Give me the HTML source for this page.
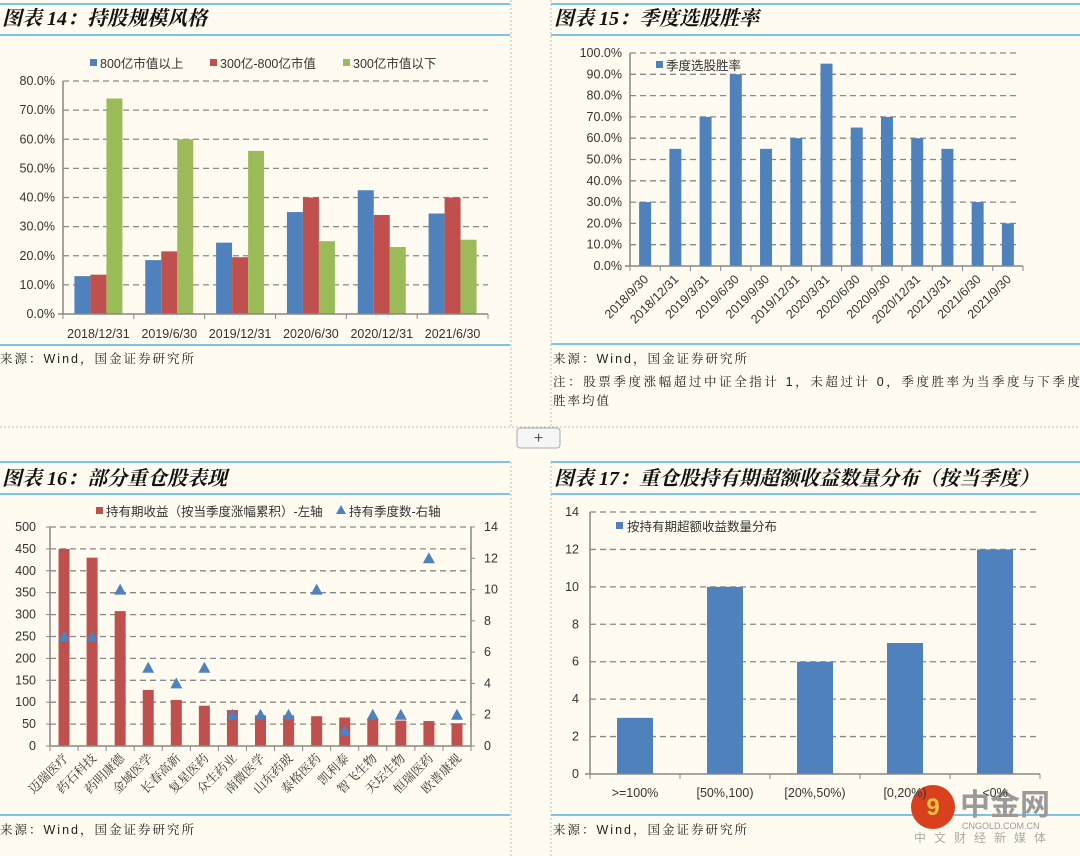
<!DOCTYPE html>
<html><head><meta charset="utf-8"><style>
html,body{margin:0;padding:0;background:#fffbf0;}
svg{display:block;font-family:"Liberation Sans","Noto Sans CJK SC",sans-serif;}
.t{font-family:"Liberation Serif","Noto Serif CJK SC",serif;font-weight:bold;font-style:italic;font-size:20px;fill:#111;}
.tk{font-size:12.5px;fill:#333;}
.src{font-size:12.5px;fill:#222;letter-spacing:2px;font-family:"Liberation Sans","Noto Serif CJK SC",serif;}
</style></head><body>
<svg id="s" width="1080" height="856" viewBox="0 0 1080 856">
<rect x="0" y="0" width="1080" height="856" fill="#fffbf0"/>
<g stroke="#4fb3e3" stroke-width="1.5">
<line x1="0" y1="4" x2="510" y2="4"/><line x1="0" y1="35" x2="510" y2="35"/><line x1="0" y1="345" x2="510" y2="345"/>
<line x1="551" y1="4" x2="1080" y2="4"/><line x1="551" y1="35" x2="1080" y2="35"/><line x1="551" y1="344" x2="1080" y2="344"/>
<line x1="0" y1="462" x2="510" y2="462"/><line x1="0" y1="494" x2="510" y2="494"/><line x1="0" y1="815" x2="510" y2="815"/>
<line x1="551" y1="462" x2="1080" y2="462"/><line x1="551" y1="494" x2="1080" y2="494"/><line x1="551" y1="815" x2="1080" y2="815"/>
</g>
<g stroke="#bbb" stroke-dasharray="2,2" stroke-width="1">
<line x1="511" y1="0" x2="511" y2="427"/><line x1="551" y1="0" x2="551" y2="427"/>
<line x1="511" y1="462" x2="511" y2="856"/><line x1="551" y1="462" x2="551" y2="856"/>
<line x1="0" y1="427" x2="1080" y2="427"/>
</g>
<g>
<rect x="517" y="428" width="43" height="20" rx="3" fill="#f6f6f6" stroke="#aaa"/>
<text x="538.5" y="443" text-anchor="middle" font-size="16" fill="#555">+</text></g>

<text class="t" x="2" y="25">图表 14：持股规模风格</text>
<text class="t" x="554" y="25">图表 15：季度选股胜率</text>
<text class="t" x="2" y="485">图表 16：部分重仓股表现</text>
<text class="t" x="554" y="485">图表 17：重仓股持有期超额收益数量分布（按当季度）</text>

<text class="src" x="0" y="363">来源：Wind，国金证券研究所</text>
<text class="src" x="553" y="363">来源：Wind，国金证券研究所</text>
<text class="src" x="553" y="386" style="letter-spacing:2.6px">注：股票季度涨幅超过中证全指计 1，未超过计 0，季度胜率为当季度与下季度</text>
<text class="src" x="553" y="405">胜率均值</text>
<text class="src" x="0" y="834">来源：Wind，国金证券研究所</text>
<text class="src" x="553" y="834">来源：Wind，国金证券研究所</text>

<g>
<circle cx="933" cy="807" r="22" fill="#d8401e"/>
<text x="933" y="815" text-anchor="middle" font-size="24" font-weight="bold" fill="#f7c040">9</text>
<text x="960" y="815" font-size="30" font-weight="bold" fill="#9a9a9a">中金网</text>
<text x="962" y="829" font-size="9" fill="#999">CNGOLD.COM.CN</text>
<text x="914" y="842" font-size="12" fill="#aaa" letter-spacing="8">中文财经新媒体</text>
</g>
<g id="c14"></g><g id="c15"></g><g id="c16"></g><g id="c17"></g>
</svg>
<script>
// Chart 14 data
const c14Cats=["2018/12/31","2019/6/30","2019/12/31","2020/6/30","2020/12/31","2021/6/30"];
const c14Large=[13,18.5,24.5,35,42.5,34.5];
const c14Mid=[13.5,21.5,19.5,40,34,40];
const c14Small=[74,60,56,25,23,25.5];
const c14Ticks=[0,10,20,30,40,50,60,70,80];
// Chart 15 data
const c15Cats=["2018/9/30","2018/12/31","2019/3/31","2019/6/30","2019/9/30","2019/12/31","2020/3/31","2020/6/30","2020/9/30","2020/12/31","2021/3/31","2021/6/30","2021/9/30"];
const c15Vals=[30,55,70,90,55,60,95,65,70,60,55,30,20];
const c15Ticks=[0,10,20,30,40,50,60,70,80,90,100];
// Chart 16 data
const c16Cats=["迈瑞医疗","药石科技","药明康德","金域医学","长春高新","复星医药","众生药业","南微医学","山东药玻","泰格医药","凯利泰","智飞生物","天坛生物","恒瑞医药","欧普康视"];
const c16Returns=[450,430,308,128,105,92,82,70,70,68,65,62,58,57,52];
const c16Quarters=[7,7,10,5,4,5,2,2,2,10,1,2,2,12,2];
const c16LeftTicks=[0,50,100,150,200,250,300,350,400,450,500];
const c16RightTicks=[0,2,4,6,8,10,12,14];
// Chart 17 data
const c17Cats=[">=100%","[50%,100)","[20%,50%)","[0,20%)","<0%"];
const c17Vals=[3,10,6,7,12];
const c17Ticks=[0,2,4,6,8,10,12,14];

const NS="http://www.w3.org/2000/svg";
function mk(p,tag,a,txt){const e=document.createElementNS(NS,tag);for(const k in a)e.setAttribute(k,a[k]);if(txt!==undefined)e.textContent=txt;p.appendChild(e);return e;}
const BLUE="#4f81bd",RED="#c0504d",GREEN="#9bbb59";
function grid(g,x0,x1,ys){ys.forEach(y=>{const l=mk(g,'line',{x1:x0,x2:x1,y1:y,y2:y,stroke:'#888','stroke-dasharray':'6,4','stroke-width':1.3});

});}

// ---- Chart 14
(function(){
const g=document.getElementById('c14');
const X0=63,X1=488,Y0=314,Y1=81,MAX=80;
const y=v=>Y0-(v/MAX)*(Y0-Y1);
const gw=(X1-X0)/c14Cats.length, bw=16;
grid(g,X0,X1,c14Ticks.slice(1).map(y));
c14Ticks.forEach(t=>{const e=mk(g,'text',{x:X0-8,y:y(t)+4,'text-anchor':'end',class:'tk'},t.toFixed(1)+'%');

});
const series=[[c14Large,BLUE,'large'],[c14Mid,RED,'mid'],[c14Small,GREEN,'small']];
c14Cats.forEach((c,i)=>{const gx=X0+i*gw+(gw-3*bw)/2;
series.forEach((s,j)=>{const r=mk(g,'rect',{x:gx+j*bw,y:y(s[0][i]),width:bw,height:Y0-y(s[0][i]),fill:s[1]});

});
const t=mk(g,'text',{x:X0+i*gw+gw/2,y:338,'text-anchor':'middle',class:'tk','font-size':'13'},c);


mk(g,'line',{x1:X0+i*gw,x2:X0+i*gw,y1:Y0,y2:Y0+5,stroke:'#888'});});
mk(g,'line',{x1:X0+c14Cats.length*gw,x2:X0+c14Cats.length*gw,y1:Y0,y2:Y0+5,stroke:'#888'});
mk(g,'line',{x1:X0,x2:X0,y1:Y1,y2:Y0,stroke:'#888','stroke-width':1.5});
mk(g,'line',{x1:X0-5,x2:X1,y1:Y0,y2:Y0,stroke:'#888','stroke-width':1.5});
[["800亿市值以上",BLUE,90],["300亿-800亿市值",RED,212],["300亿市值以下",GREEN,344]].forEach(l=>{
const lg=mk(g,'g',{});


const xx=l[2]===212?210:(l[2]===344?343:l[2]);
mk(lg,'rect',{x:xx,y:59,width:7,height:7,fill:l[1]});mk(lg,'text',{x:xx+10,y:68,class:'tk','font-size':'14.5'},l[0]);});
})();

// ---- Chart 15
(function(){
const g=document.getElementById('c15');
const X0=630,X1=1023,Y0=266,Y1=53,MAX=100;
const y=v=>Y0-(v/MAX)*(Y0-Y1);
const gw=(X1-X0)/c15Cats.length,bw=12;
grid(g,X0,X1-4,c15Ticks.slice(1).map(y));
c15Ticks.forEach(t=>{const e=mk(g,'text',{x:X0-8,y:y(t)+4,'text-anchor':'end',class:'tk','font-size':'12'},t.toFixed(1)+'%');

});
c15Cats.forEach((c,i)=>{const cx=X0+i*gw+gw/2;
const r=mk(g,'rect',{x:cx-bw/2,y:y(c15Vals[i]),width:bw,height:Y0-y(c15Vals[i]),fill:BLUE});


const t=mk(g,'text',{x:cx+4,y:Y0+14,'text-anchor':'end',class:'tk','font-size':'13',transform:`rotate(-45 ${cx+4} ${Y0+14})`},c);


mk(g,'line',{x1:X0+i*gw,x2:X0+i*gw,y1:Y0,y2:Y0+5,stroke:'#888'});});
mk(g,'line',{x1:X1,x2:X1,y1:Y0,y2:Y0+5,stroke:'#888'});
mk(g,'line',{x1:X0,x2:X0,y1:Y1,y2:Y0,stroke:'#888','stroke-width':1.5});
mk(g,'line',{x1:X0-5,x2:X1,y1:Y0,y2:Y0,stroke:'#888','stroke-width':1.5});
const lg=mk(g,'g',{});


mk(lg,'rect',{x:656,y:61,width:7,height:7,fill:BLUE});mk(lg,'text',{x:666,y:70,class:'tk','font-size':'14'},'季度选股胜率');
})();

// ---- Chart 16
(function(){
const g=document.getElementById('c16');
const X0=50,X1=471,Y0=746,Y1=527,LMAX=500,RMAX=14;
const yl=v=>Y0-(v/LMAX)*(Y0-Y1), yr=v=>Y0-(v/RMAX)*(Y0-Y1);
const gw=(X1-X0)/c16Cats.length,bw=11;
grid(g,X0,X1,c16LeftTicks.slice(1).map(yl));
c16LeftTicks.forEach(t=>{const e=mk(g,'text',{x:X0-14,y:yl(t)+4,'text-anchor':'end',class:'tk','font-size':'12.5'},t);


mk(g,'line',{x1:X0-4,x2:X0,y1:yl(t),y2:yl(t),stroke:'#888'});});
c16RightTicks.forEach(t=>{const e=mk(g,'text',{x:X1+13,y:yr(t)+4,class:'tk','font-size':'12.5'},t);


mk(g,'line',{x1:X1,x2:X1+4,y1:yr(t),y2:yr(t),stroke:'#888'});});
c16Cats.forEach((c,i)=>{const cx=X0+i*gw+gw/2;
const r=mk(g,'rect',{x:cx-bw/2,y:yl(c16Returns[i]),width:bw,height:Y0-yl(c16Returns[i]),fill:RED});


const ty=yr(c16Quarters[i]);
const tr=mk(g,'polygon',{points:`${cx},${ty-6} ${cx+6},${ty+5} ${cx-6},${ty+5}`,fill:BLUE});


const t=mk(g,'text',{x:cx+5,y:Y0+13,'text-anchor':'end',class:'tk','font-size':'14','font-family':'"Noto Serif CJK SC",serif',transform:`rotate(-45 ${cx+5} ${Y0+13})`},c);


mk(g,'line',{x1:X0+i*gw,x2:X0+i*gw,y1:Y0,y2:Y0+5,stroke:'#888'});});
mk(g,'line',{x1:X1,x2:X1,y1:Y0,y2:Y0+5,stroke:'#888'});
mk(g,'line',{x1:X0,x2:X0,y1:Y1,y2:Y0,stroke:'#888','stroke-width':1.5});
mk(g,'line',{x1:X1,x2:X1,y1:Y1,y2:Y0,stroke:'#888','stroke-width':1.5});
mk(g,'line',{x1:X0,x2:X1,y1:Y0,y2:Y0,stroke:'#888','stroke-width':1.5});
const l1=mk(g,'g',{});


mk(l1,'rect',{x:96,y:507,width:7,height:7,fill:RED});mk(l1,'text',{x:106,y:516,class:'tk','font-size':'13.5'},'持有期收益（按当季度涨幅累积）-左轴');
const l2=mk(g,'g',{});


mk(l2,'polygon',{points:'341,505 346,514 336,514',fill:BLUE});mk(l2,'text',{x:349,y:516,class:'tk','font-size':'13.5'},'持有季度数-右轴');
})();

// ---- Chart 17
(function(){
const g=document.getElementById('c17');
const X0=590,X1=1040,Y0=774,Y1=512,MAX=14;
const y=v=>Y0-(v/MAX)*(Y0-Y1);
const gw=(X1-X0)/c17Cats.length,bw=36;
grid(g,X0,X1,c17Ticks.slice(1).map(y));
c17Ticks.forEach(t=>{const e=mk(g,'text',{x:X0-11,y:y(t)+4,'text-anchor':'end',class:'tk','font-size':'12.5'},t);

});
c17Cats.forEach((c,i)=>{const cx=X0+i*gw+gw/2;
const r=mk(g,'rect',{x:cx-bw/2,y:y(c17Vals[i]),width:bw,height:Y0-y(c17Vals[i]),fill:BLUE});


const t=mk(g,'text',{x:cx,y:797,'text-anchor':'middle',class:'tk','font-size':'12.5'},c);


mk(g,'line',{x1:X0+i*gw,x2:X0+i*gw,y1:Y0,y2:Y0+5,stroke:'#888'});});
mk(g,'line',{x1:X1,x2:X1,y1:Y0,y2:Y0+5,stroke:'#888'});
mk(g,'line',{x1:X0,x2:X0,y1:Y1,y2:Y0,stroke:'#888','stroke-width':1.5});
mk(g,'line',{x1:X0-5,x2:X1,y1:Y0,y2:Y0,stroke:'#888','stroke-width':1.5});
const lg=mk(g,'g',{});


mk(lg,'rect',{x:616,y:522,width:7,height:7,fill:BLUE});mk(lg,'text',{x:627,y:531,class:'tk','font-size':'14'},'按持有期超额收益数量分布');
})();
</script>
</body></html>
